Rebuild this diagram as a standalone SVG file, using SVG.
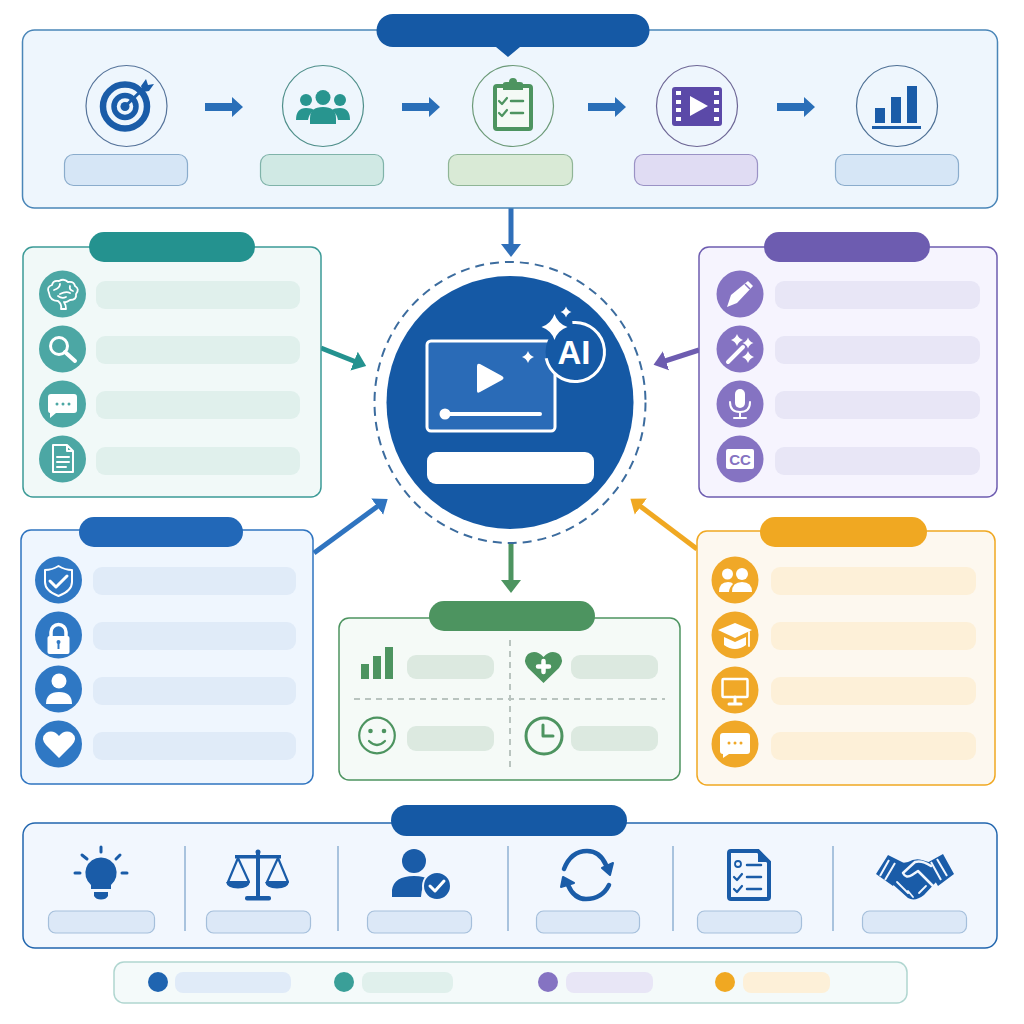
<svg xmlns="http://www.w3.org/2000/svg" width="1024" height="1024" viewBox="0 0 1024 1024">
<style>
.cn{fill:none;stroke-width:5}
.wf{fill:#fff}
.ws{fill:none;stroke:#fff;stroke-linecap:round;stroke-linejoin:round}
.nf{fill:#1a5ca8}
.ns{fill:none;stroke:#1a5ca8;stroke-linecap:round;stroke-linejoin:round}
.gf{fill:#4d9460}
.gs{fill:none;stroke:#4d9460;stroke-linecap:round;stroke-linejoin:round}
.dash{fill:none;stroke:#b9c4bf;stroke-width:2;stroke-dasharray:6 5}
.sep{stroke:#a9c3de;stroke-width:2}
.step{fill:none;stroke-width:1.2}
.lab{stroke-width:1.2}
.t{font-family:"Liberation Sans",Arial,sans-serif;font-weight:700;text-anchor:middle}
</style>
<defs>
<marker id="mTop" markerUnits="userSpaceOnUse" markerWidth="16" markerHeight="22" refX="1" refY="11" orient="auto"><path d="M0,1L13,11L0,21Z" fill="#2f6fb9"/></marker>
<marker id="mTeal" markerUnits="userSpaceOnUse" markerWidth="16" markerHeight="22" refX="1" refY="11" orient="auto"><path d="M0,1L13,11L0,21Z" fill="#24928f"/></marker>
<marker id="mPur" markerUnits="userSpaceOnUse" markerWidth="16" markerHeight="22" refX="1" refY="11" orient="auto"><path d="M0,1L13,11L0,21Z" fill="#6d5cb0"/></marker>
<marker id="mBlue" markerUnits="userSpaceOnUse" markerWidth="16" markerHeight="22" refX="1" refY="11" orient="auto"><path d="M0,1L13,11L0,21Z" fill="#2f74c0"/></marker>
<marker id="mOr" markerUnits="userSpaceOnUse" markerWidth="16" markerHeight="22" refX="1" refY="11" orient="auto"><path d="M0,1L13,11L0,21Z" fill="#f0a822"/></marker>
<marker id="mGr" markerUnits="userSpaceOnUse" markerWidth="16" markerHeight="22" refX="1" refY="11" orient="auto"><path d="M0,1L13,11L0,21Z" fill="#4d9460"/></marker>
<path id="flow" d="M0,-4H27V-10L38,0L27,10V4H0Z" fill="#2a6fb8"/>
<path id="spark" d="M0,-10Q2.500,-2.500 10,0Q2.500,2.500 0,10Q-2.500,2.500 -10,0Q-2.500,-2.500 0,-10Z" fill="#fff"/>
<path id="chk" d="M-4,0L-1,3L4,-3" fill="none" stroke-width="2.200" stroke-linecap="round" stroke-linejoin="round"/>
</defs>
<rect width="1024" height="1024" fill="#fff"/>

<g id="connectors">
<line class="cn" x1="511" y1="208" x2="511" y2="245" stroke="#2f6fb9" marker-end="url(#mTop)"/>
<line class="cn" x1="321" y1="348" x2="355" y2="361.500" stroke="#24928f" marker-end="url(#mTeal)"/>
<line class="cn" x1="699" y1="350" x2="665" y2="361" stroke="#6d5cb0" marker-end="url(#mPur)"/>
<line class="cn" x1="314" y1="553" x2="378" y2="506" stroke="#2f74c0" marker-end="url(#mBlue)"/>
<line class="cn" x1="697" y1="549" x2="640" y2="506" stroke="#f0a822" marker-end="url(#mOr)"/>
<line class="cn" x1="511" y1="544" x2="511" y2="581" stroke="#4d9460" marker-end="url(#mGr)"/>
</g>

<g id="workflow">
<rect x="22.500" y="30" width="975" height="178" rx="12" fill="#eef6fd" stroke="#4a86b8" stroke-width="1.500"/>
<path d="M393,14H633A16.500,16.500 0 0 1 633,47H520L508,57L496,47H393A16.500,16.500 0 0 1 393,14Z" fill="#1559a5"/>
<use href="#flow" x="205" y="107"/><use href="#flow" x="402" y="107"/><use href="#flow" x="588" y="107"/><use href="#flow" x="777" y="107"/>
<g id="step-goal">
<circle class="step" cx="126.500" cy="106" r="40.500" fill="#f3f8fd" stroke="#55739a"/>
<circle cx="125" cy="106.500" r="22" class="ns" stroke-width="6.500"/>
<circle cx="125" cy="106.500" r="11" class="ns" stroke-width="5.500"/>
<circle cx="125" cy="106.500" r="4.500" class="nf"/>
<path d="M125,106.500L143,89" class="ns" stroke-width="3"/>
<path d="M141,86L146,79L148,85L154,84L149,91L143,92Z" class="nf"/>
<rect class="lab" x="64.500" y="154.500" width="123" height="31" rx="9" fill="#d6e6f6" stroke="#8aaccc"/>
</g>
<g id="step-team" fill="#28958f">
<circle class="step" cx="323" cy="106" r="40.500" fill="#f1f9f8" stroke="#4f8f8a"/>
<circle cx="306" cy="100" r="6"/><circle cx="340" cy="100" r="6"/><circle cx="323" cy="97.500" r="7.500"/>
<path d="M296,120Q296,108 306,108Q312,108 314,110Q309,114 308,120Z"/>
<path d="M350,120Q350,108 340,108Q334,108 332,110Q337,114 338,120Z"/>
<path d="M310,124V118Q310,107 323,107Q336,107 336,118V124Z"/>
<rect class="lab" x="260.500" y="154.500" width="123" height="31" rx="9" fill="#d0e9e4" stroke="#7fb3a9"/>
</g>
<g id="step-plan">
<circle class="step" cx="513" cy="106" r="40.500" fill="#f0f8f0" stroke="#6c9a78"/>
<rect x="495" y="86" width="36" height="43" rx="2" fill="#f4faf5" stroke="#4d9460" stroke-width="4"/>
<path d="M503,90V84Q503,82 506,82H509A4,4 0 0 1 517,82H520Q523,82 523,84V90Z" class="gf"/>
<use href="#chk" x="503" y="101" stroke="#4d9460"/><use href="#chk" x="503" y="113" stroke="#4d9460"/>
<path d="M511,101H523M511,113H523" class="gs" stroke-width="2.500"/>
<rect class="lab" x="448.500" y="154.500" width="124" height="31" rx="9" fill="#d9ead6" stroke="#8fb596"/>
</g>
<g id="step-video">
<circle class="step" cx="697" cy="106" r="40.500" fill="#f2f0fb" stroke="#6d6695"/>
<rect x="672" y="87" width="50" height="39" rx="3" fill="#5b49a8"/>
<path fill="#fff" d="M676,91h5v4h-5zM676,100h5v4h-5zM676,108h5v4h-5zM676,117h5v4h-5zM714,91h5v4h-5zM714,100h5v4h-5zM714,108h5v4h-5zM714,117h5v4h-5z"/>
<path d="M690,96L708,106L690,116Z" class="wf"/>
<rect class="lab" x="634.500" y="154.500" width="123" height="31" rx="9" fill="#e0dcf3" stroke="#9a92c5"/>
</g>
<g id="step-results" class="nf">
<circle class="step" cx="897" cy="106" r="40.500" fill="#f1f7fd" stroke="#4d6f94"/>
<rect x="875" y="108" width="10" height="15"/><rect x="891" y="97" width="10" height="26"/><rect x="907" y="86" width="10" height="37"/><rect x="872" y="126" width="49" height="3"/>
<rect class="lab" x="835.500" y="154.500" width="123" height="31" rx="9" fill="#d6e6f6" stroke="#8aaccc"/>
</g>
</g>

<g id="core">
<ellipse cx="510" cy="402.500" rx="135.500" ry="140.500" fill="#fff" stroke="#3c6c9e" stroke-width="2" stroke-dasharray="9 6"/>
<ellipse cx="510" cy="402.500" rx="123.500" ry="126.500" fill="#1559a5"/>
<rect x="427" y="341" width="128" height="90" rx="4" fill="#2a6bb7" stroke="#fff" stroke-width="3"/>
<path d="M477,366Q477,363 480,364L502,376Q505,378 502,380L480,392Q477,394 477,391Z" class="wf"/>
<circle cx="445" cy="414" r="5.500" class="wf"/>
<path d="M445,414H540" class="ws" stroke-width="4"/>
<circle cx="575" cy="352" r="29.500" fill="#1559a5"/>
<circle cx="575" cy="352" r="29.500" fill="none" stroke="#fff" stroke-width="3" stroke-dasharray="135 50" transform="rotate(-95 575 352)"/>
<text x="574" y="364" class="t" font-size="33" fill="#fff">AI</text>
<use href="#spark" transform="translate(554.500 327) scale(1.300)"/>
<use href="#spark" transform="translate(566 312) scale(.55)"/>
<use href="#spark" transform="translate(528 357) scale(.6)"/>
<rect x="427" y="452" width="167" height="32" rx="9" fill="#fff"/>
</g>

<g id="panel-teal">
<rect x="23" y="247" width="298" height="250" rx="10" fill="#f1f9f8" stroke="#3b9a96" stroke-width="1.500"/>
<rect x="89" y="232" width="166" height="30" rx="15" fill="#24928f"/>
<g fill="#e0f0ec"><rect x="96" y="281" width="204" height="28" rx="9"/><rect x="96" y="336" width="204" height="28" rx="9"/><rect x="96" y="391" width="204" height="28" rx="9"/><rect x="96" y="447" width="204" height="28" rx="9"/></g>
<g fill="#4ca7a4"><circle cx="62.500" cy="294" r="23.500"/><circle cx="62.500" cy="349" r="23.500"/><circle cx="62.500" cy="404" r="23.500"/><circle cx="62.500" cy="459" r="23.500"/></g>
<path class="ws" stroke-width="1.800" d="M49,293Q46,287 52,285Q53,280 59,281Q64,278 68,282Q74,281 75,286Q80,289 76,294Q77,300 70,300Q66,303 64,302Q66,305 66,309H61Q62,304 58,301Q50,301 49,293ZM54,290Q60,288 60,284M60,294Q66,291 70,293M58,296Q62,299 66,297M70,286Q69,290 73,291"/>
<circle cx="59" cy="346" r="8.500" class="ws" stroke-width="3"/>
<path d="M65,352L75,361" class="ws" stroke-width="4"/>
<path d="M51,394H74Q77,394 77,397V410Q77,413 74,413H56L50,418L50,413Q48,413 48,410V397Q48,394 51,394Z" class="wf"/>
<g fill="#4ca7a4"><circle cx="57" cy="404" r="1.500"/><circle cx="63" cy="404" r="1.500"/><circle cx="69" cy="404" r="1.500"/></g>
<path d="M53,445H67L73,451V472H53Z M67,445V451H73 M57,457H69 M57,462H69 M57,467H66" class="ws" stroke-width="2"/>
</g>

<g id="panel-purple">
<rect x="699" y="247" width="298" height="250" rx="10" fill="#f6f4fe" stroke="#6d5cb0" stroke-width="1.500"/>
<rect x="764" y="232" width="166" height="30" rx="15" fill="#6d5cb0"/>
<g fill="#e8e6f6"><rect x="775" y="281" width="205" height="28" rx="9"/><rect x="775" y="336" width="205" height="28" rx="9"/><rect x="775" y="391" width="205" height="28" rx="9"/><rect x="775" y="447" width="205" height="28" rx="9"/></g>
<g fill="#8573c2"><circle cx="740" cy="294" r="23.500"/><circle cx="740" cy="349" r="23.500"/><circle cx="740" cy="404" r="23.500"/><circle cx="740" cy="459" r="23.500"/></g>
<path d="M727,307L731,295L748,281L753,286L737,303Z" class="wf"/><path d="M745,284L750,289" stroke="#8573c2" stroke-width="1.500"/>
<path d="M728,362L743,347" class="ws" stroke-width="4"/>
<use href="#spark" transform="translate(737 340) scale(.6)"/><use href="#spark" transform="translate(748 343) scale(.55)"/><use href="#spark" transform="translate(748 357) scale(.6)"/>
<rect x="735" y="389" width="10" height="19" rx="5" class="wf"/>
<path d="M730,402Q730,412 740,412Q750,412 750,402M740,412V418M734,418H746" class="ws" stroke-width="2"/>
<rect x="726" y="449" width="28" height="20" rx="2" class="wf"/>
<text x="740" y="465" class="t" font-size="15" fill="#8573c2">CC</text>
</g>

<g id="panel-blue">
<rect x="21" y="530" width="292" height="254" rx="10" fill="#eff6fe" stroke="#2f74c0" stroke-width="1.500"/>
<rect x="79" y="517" width="164" height="30" rx="15" fill="#2268b8"/>
<g fill="#e0ebf8"><rect x="93" y="567" width="203" height="28" rx="9"/><rect x="93" y="622" width="203" height="28" rx="9"/><rect x="93" y="677" width="203" height="28" rx="9"/><rect x="93" y="732" width="203" height="28" rx="9"/></g>
<g fill="#2f78c4"><circle cx="58.500" cy="580" r="23.500"/><circle cx="58.500" cy="635" r="23.500"/><circle cx="58.500" cy="689" r="23.500"/><circle cx="58.500" cy="744" r="23.500"/></g>
<path d="M58.500,566Q65,570 72,570V582Q72,591 58.500,596Q45,591 45,582V570Q52,570 58.500,566Z" class="ws" stroke-width="2"/>
<path d="M50,581L56,587L67,576" class="ws" stroke-width="3"/>
<path d="M51,638V632A7.500,7.500 0 0 1 66,632V638" class="ws" stroke-width="3.500"/>
<rect x="47.500" y="636" width="22" height="18" rx="2" class="wf"/>
<path d="M58.500,642V649" stroke="#2f78c4" stroke-width="2"/><circle cx="58.500" cy="642" r="2" fill="#2f78c4"/>
<circle cx="59" cy="681" r="7.500" class="wf"/>
<path d="M46,704Q46,692 59,692Q72,692 72,704Z" class="wf"/>
<path d="M59,758L46,745Q40,738 46,733Q53,729 59,736Q65,729 72,733Q78,738 72,745Z" class="wf"/>
</g>

<g id="panel-orange">
<rect x="697" y="531" width="298" height="254" rx="10" fill="#fdf8ef" stroke="#f0a822" stroke-width="1.500"/>
<rect x="760" y="517" width="167" height="30" rx="15" fill="#f0a822"/>
<g fill="#fdf0d8"><rect x="771" y="567" width="205" height="28" rx="9"/><rect x="771" y="622" width="205" height="28" rx="9"/><rect x="771" y="677" width="205" height="28" rx="9"/><rect x="771" y="732" width="205" height="28" rx="9"/></g>
<g fill="#f0a828"><circle cx="735" cy="580" r="23.500"/><circle cx="735" cy="635" r="23.500"/><circle cx="735" cy="690" r="23.500"/><circle cx="735" cy="744" r="23.500"/></g>
<circle cx="727.500" cy="574" r="5.500" class="wf"/><circle cx="742" cy="574" r="6" class="wf"/>
<path d="M719,592Q719,582 728,582Q732,582 733,584Q729,588 729,592Z" class="wf"/>
<path d="M732,592Q732,582 742,582Q752,582 752,592Z" class="wf"/>
<path d="M718,630L735,623L752,630L735,638Z" class="wf"/>
<path d="M724,637V645Q735,653 746,645V637L735,642Z" class="wf"/>
<path d="M749,632V646" class="ws" stroke-width="1.800"/>
<rect x="722.500" y="679" width="25" height="18" rx="1" fill="none" stroke="#fff" stroke-width="2.500"/>
<path d="M735,697V703M729,704H741" class="ws" stroke-width="3"/>
<path d="M723,733H747Q750,733 750,736V751Q750,754 747,754H729L723,758V754Q720,754 720,751V736Q720,733 723,733Z" class="wf"/>
<g fill="#f0a828"><circle cx="729" cy="743" r="1.500"/><circle cx="735" cy="743" r="1.500"/><circle cx="741" cy="743" r="1.500"/></g>
</g>

<g id="panel-green">
<rect x="339" y="618" width="341" height="162" rx="10" fill="#f5faf7" stroke="#4d9460" stroke-width="1.500"/>
<rect x="429" y="601" width="166" height="30" rx="15" fill="#4d9460"/>
<path class="dash" d="M510,640V768M354,699H665"/>
<g fill="#dce9e0"><rect x="407" y="655" width="87" height="24" rx="9"/><rect x="571" y="655" width="87" height="24" rx="9"/><rect x="407" y="726" width="87" height="25" rx="9"/><rect x="571" y="726" width="87" height="25" rx="9"/></g>
<g class="gf"><rect x="361" y="664" width="8" height="15"/><rect x="373" y="656" width="8" height="23"/><rect x="385" y="647" width="8" height="32"/></g>
<path d="M543.500,683L528,668Q522,660 528,654Q536,649 543.500,657Q551,649 559,654Q565,660 559,668Z" class="gf"/>
<path d="M543.500,661V672M538,666.500H549" class="ws" stroke-width="4.500"/>
<circle cx="377" cy="735.500" r="17.800" class="gs" stroke-width="2.200"/>
<circle cx="370.500" cy="731" r="2.300" class="gf"/><circle cx="384" cy="731" r="2.300" class="gf"/>
<path d="M369,741Q377,749 385,741" class="gs" stroke-width="2.200"/>
<circle cx="544" cy="736" r="18" class="gs" stroke-width="3"/>
<path d="M543,725V736H553" class="gs" stroke-width="3"/>
</g>

<g id="panel-principles">
<rect x="23" y="823" width="974" height="125" rx="12" fill="#f2f7fe" stroke="#2266ae" stroke-width="1.500"/>
<rect x="391" y="805" width="236" height="31" rx="15.500" fill="#1559a5"/>
<path class="sep" d="M185,846V931M338,846V931M508,846V931M673,846V931M833,846V931"/>
<g fill="#dce8f7" stroke="#a5bfdb" stroke-width="1.200"><rect x="48.500" y="911" width="106" height="22" rx="7"/><rect x="206.500" y="911" width="104" height="22" rx="7"/><rect x="367.500" y="911" width="104" height="22" rx="7"/><rect x="536.500" y="911" width="103" height="22" rx="7"/><rect x="697.500" y="911" width="104" height="22" rx="7"/><rect x="862.500" y="911" width="104" height="22" rx="7"/></g>
<g id="p-bulb">
<path d="M101,857.500A15.500,15.500 0 0 1 111,885V889H91V885A15.500,15.500 0 0 1 101,857.500Z" class="nf"/>
<path d="M94,892H108V896Q106,899.500 101,899.500Q96,899.500 94,896Z" class="nf"/>
<path d="M101,847V852M82,855L87,859M120,855L116,859M75,873H80M122,873H127" class="ns" stroke-width="3"/>
</g>
<g id="p-scale">
<rect x="256" y="852" width="4" height="46" class="nf"/><circle cx="258" cy="852" r="2.500" class="nf"/>
<rect x="235" y="855" width="46" height="3.500" class="nf"/>
<rect x="245" y="896" width="26" height="4.500" rx="2" class="nf"/>
<path d="M238,858L228,882H249ZM278,858L267,882H288Z" class="ns" stroke-width="2.200"/>
<path d="M226,882H250Q249,888 238,888.500Q227,888 226,882ZM265,882H289Q288,888 277,888.500Q266,888 265,882Z" class="nf"/>
</g>
<g id="p-person">
<circle cx="414" cy="861" r="12" class="nf"/>
<path d="M392,897V890Q394,876 414,876Q424,876 430,880Q421,885 421,897Z" class="nf"/>
<circle cx="437" cy="886" r="14" class="nf" stroke="#f2f7fe" stroke-width="2"/>
<path d="M430,886L435,891L444,881" class="ws" stroke-width="3"/>
</g>
<g id="p-refresh">
<path d="M564,869Q571,851 587,851Q600,851 606,865M609,885Q602,899 586,899Q574,899 568,885" class="ns" stroke-width="4.500"/>
<path d="M613,863L602,868L610,875ZM561,887L563,877L574,883Z" class="nf" stroke="#1a5ca8" stroke-width="2" stroke-linejoin="round"/>
</g>
<g id="p-check">
<path d="M731,851H758L769,862V897Q769,899 767,899H731Q729,899 729,897V853Q729,851 731,851Z" fill="#f2f7fe" stroke="#1a5ca8" stroke-width="4"/>
<path d="M758,851L769,862H758Z" class="nf"/>
<circle cx="738" cy="864" r="3" class="ns" stroke-width="1.800"/>
<use href="#chk" x="738" y="877" stroke="#1a5ca8"/><use href="#chk" x="738" y="889" stroke="#1a5ca8"/>
<path d="M747,865H761M747,877H761M747,889H761" class="ns" stroke-width="2.500"/>
</g>
<g id="p-hands">
<path d="M876,874L888,855L906,864L893,886ZM925,864L943,854L954,874L938,886Z" class="nf"/>
<path d="M897,864L908,862Q915,858 922,860L932,863L938,880L924,895Q915,902 908,898L889,881Z" class="nf"/>
<path d="M889,860L880,876M895,863L885,880M937,859L947,876M931,862L941,880" stroke="#f2f7fe" stroke-width="2"/>
<path d="M931,866Q922,860 915,862L903,873Q906,879 912,875L918,871L933,886" fill="none" stroke="#f2f7fe" stroke-width="2.500" stroke-linejoin="round" stroke-linecap="round"/>
<path d="M897,882L903,888M902,887L908,893M908,891L913,897M926,886L919,893" stroke="#f2f7fe" stroke-width="1.800" stroke-linecap="round"/>
</g>
</g>

<g id="legend">
<rect x="114" y="962" width="793" height="41" rx="10" fill="#f4fafa" stroke="#b0d6d0" stroke-width="1.500"/>
<circle cx="158" cy="982" r="10" fill="#1f64b0"/><rect x="175" y="972" width="116" height="21" rx="8" fill="#e0ebf8"/>
<circle cx="344" cy="982" r="10" fill="#3a9f98"/><rect x="362" y="972" width="91" height="21" rx="8" fill="#e0f0ec"/>
<circle cx="548" cy="982" r="10" fill="#8573c2"/><rect x="566" y="972" width="87" height="21" rx="8" fill="#e8e6f6"/>
<circle cx="725" cy="982" r="10" fill="#f0a822"/><rect x="743" y="972" width="87" height="21" rx="8" fill="#fdf0d8"/>
</g>
</svg>
